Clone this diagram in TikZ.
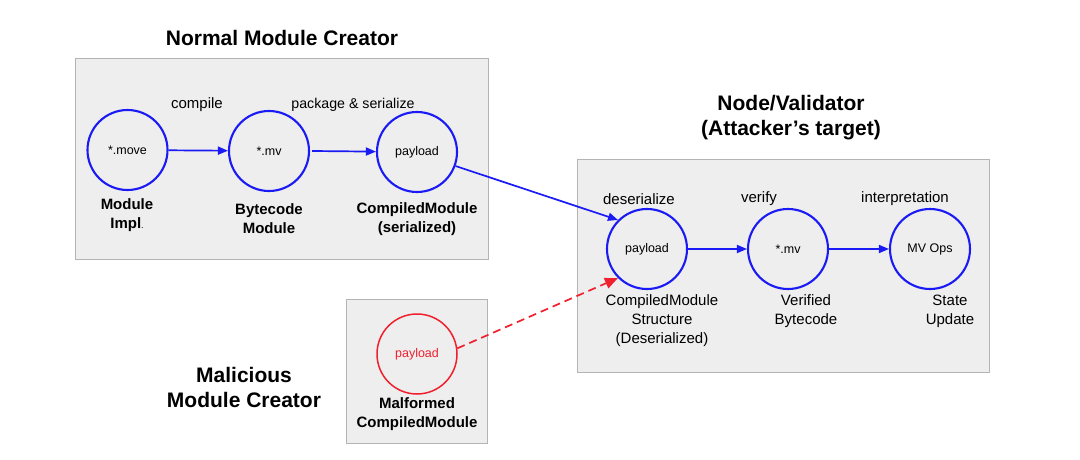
\documentclass[tikz,border=0pt]{standalone}
\usepackage{fontspec}
\setmainfont{Liberation Sans}
\usetikzlibrary{arrows.meta}
\definecolor{vblue}{HTML}{1A1AF5}
\definecolor{vred}{HTML}{F0202E}
\definecolor{boxfill}{HTML}{EEEEEE}
\definecolor{boxline}{HTML}{B4B4B4}
\begin{document}
\begin{tikzpicture}[x=1pt,y=-1pt,
  panel/.style={draw=boxline, fill=boxfill, line width=0.9pt},
  bcirc/.style={circle, draw=vblue, line width=2.1pt, minimum size=80pt, inner sep=0pt, font=\fontsize{12.5}{14}\selectfont},
  rcirc/.style={circle, draw=vred, line width=1.5pt, minimum size=80pt, inner sep=0pt, text=vred, font=\fontsize{12.5}{14}\selectfont},
  lab/.style={inner sep=0pt, align=center, font=\fontsize{15}{19}\selectfont},
  blab/.style={inner sep=0pt, align=center, font=\fontsize{15}{19}\selectfont\bfseries},
  ttl/.style={inner sep=0pt, align=center, font=\fontsize{21}{25}\selectfont\bfseries},
  barrow/.style={draw=vblue, line width=1.7pt, -{Triangle[length=10pt,width=8pt,fill=vblue]}},
  rarrow/.style={draw=vred, line width=1.7pt, dash pattern=on 8pt off 5pt, -{Triangle[length=13pt,width=11pt,fill=vred]}}
]
\useasboundingbox (0,0) rectangle (1080,460);
% panels
\path[panel] (75,58) rectangle (488,259);
\path[panel] (577,159) rectangle (989,372);
\path[panel] (346,299) rectangle (487,443);
% titles
\node[ttl] (t1) at (282,38) {Normal Module Creator};
\node[ttl] (t2) at (791,118) {Node/Validator\\(Attacker’s target)};
\node[ttl] (t3) at (244,387) {Malicious\\Module Creator};
% circles
\node[bcirc] (c1) at (127.5,150) {*.move};
\node[bcirc] (c2) at (269,151) {*.mv};
\node[bcirc] (c3) at (417,152) {payload};
\node[bcirc] (d1) at (647,249) {payload};
\node[bcirc] (d2) at (788,249) {*.mv};
\node[bcirc] (d3) at (930,249) {MV Ops};
\node[rcirc] (m1) at (417,354) {payload};
% labels
\node[lab] (l1) at (197,105) {compile};
\node[lab, font=\fontsize{14.2}{19}\selectfont] (l2) at (353,105) {package \& serialize};
\node[blab] (n1) at (127,215) {Module\\Impl{\normalfont\fontsize{9}{10}\selectfont.}};
\node[blab] (n2) at (269,219) {Bytecode\\Module};
\node[blab] (n3) at (417,219) {CompiledModule\\(serialized)};
\node[lab] (l3) at (639,199) {deserialize};
\node[lab] (l4) at (759,199) {verify};
\node[lab] (l5) at (905,199) {interpretation};
\node[lab] (n4) at (662,321) {CompiledModule\\Structure\\(Deserialized)};
\node[lab] (n5) at (806,311) {Verified\\Bytecode};
\node[lab] (n6) at (950,311) {State\\Update};
\node[blab] (n7) at (417,414) {Malformed\\CompiledModule};
% arrows
\draw[barrow] (c1) -- (c2);
\draw[barrow] (c2.east) ++(2,0) coordinate (c2e) (c2e) -- (c3);
\draw[barrow] (c3.-20) -- (d1.135);
\draw[barrow] (d1) -- (d2);
\draw[barrow] (d2) -- (d3);
\draw[rarrow] (m1.8) -- (d1.225);
\end{tikzpicture}
\end{document}
